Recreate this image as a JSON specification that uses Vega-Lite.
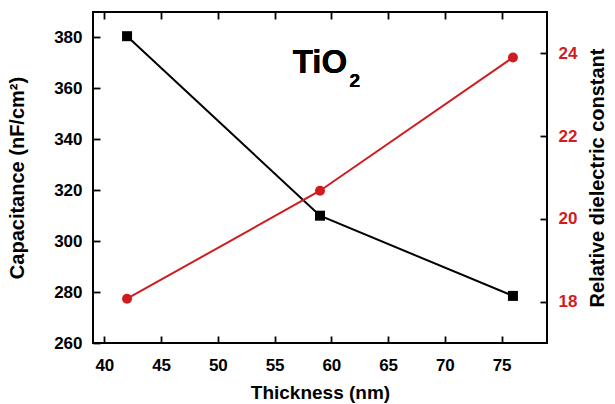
{
  "$schema": "https://vega.github.io/schema/vega-lite/v6.json",
  "width": 454,
  "height": 331,
  "autosize": "none",
  "padding": {"left": 93, "top": 12, "right": 68, "bottom": 61},
  "background": "white",
  "config": {
    "view": {"stroke": "black", "strokeWidth": 2},
    "font": "Liberation Sans",
    "axis": {
      "labelFont": "Liberation Sans", "labelFontWeight": "bold", "labelFontSize": 17, "labelColor": "black",
      "titleFont": "Liberation Sans", "titleFontWeight": "bold", "titleFontSize": 19, "titleColor": "black",
      "domain": false, "grid": false, "tickColor": "black", "tickWidth": 1.8, "tickSize": -7
    }
  },
  "data": {"values": [
    {"thickness": 42, "capacitance": 380.5, "dielectric": 18.07},
    {"thickness": 59, "capacitance": 310, "dielectric": 20.68},
    {"thickness": 76, "capacitance": 278.5, "dielectric": 23.9}
  ]},
  "layer": [
    {
      "encoding": {
        "x": {"field": "thickness", "type": "quantitative", "scale": {"domain": [39, 79], "nice": false, "zero": false},
              "axis": {"orient": "bottom", "title": "Thickness (nm)", "values": [40,45,50,55,60,65,70,75], "labelPadding": 21, "titlePadding": 10}},
        "y": {"field": "capacitance", "type": "quantitative", "scale": {"domain": [260, 390], "nice": false, "zero": false},
              "axis": {"title": "Capacitance (nF/cm²)", "values": [260,280,300,320,340,360,380], "labelPadding": 18, "titlePadding": 26, "titleFontSize": 20}}
      },
      "layer": [
        {"mark": {"type": "line", "color": "black", "strokeWidth": 2}},
        {"mark": {"type": "square", "color": "black", "filled": true, "opacity": 1, "size": 100}},
        {"mark": {"type": "text", "text": "TiO", "fontSize": 33, "fontWeight": "bold", "align": "center", "baseline": "alphabetic", "color": "black"},
         "encoding": {"x": {"datum": 59.0}, "y": {"datum": 366}}},
        {"mark": {"type": "text", "text": "2", "fontSize": 19, "fontWeight": "bold", "align": "left", "baseline": "alphabetic", "color": "black"},
         "encoding": {"x": {"datum": 61.6}, "y": {"datum": 360.5}}}
      ]
    },
    {
      "encoding": {
        "x": {"field": "thickness", "type": "quantitative", "scale": {"domain": [39, 79], "nice": false, "zero": false},
              "axis": {"orient": "top", "title": null, "labels": false, "values": [40,45,50,55,60,65,70,75]}},
        "y": {"field": "dielectric", "type": "quantitative", "scale": {"domain": [17, 25], "nice": false, "zero": false},
              "axis": {"orient": "right", "title": "Relative dielectric constant", "titleAngle": 270, "values": [18,20,22,24], "labelColor": "#d01c1f", "labelPadding": 18, "titlePadding": 31, "titleFontSize": 20}}
      },
      "layer": [
        {"mark": {"type": "line", "color": "#d01c1f", "strokeWidth": 2}},
        {"mark": {"type": "circle", "color": "#d01c1f", "opacity": 1, "size": 100}}
      ]
    }
  ],
  "resolve": {"scale": {"y": "independent"}, "axis": {"x": "independent", "y": "independent"}}
}
